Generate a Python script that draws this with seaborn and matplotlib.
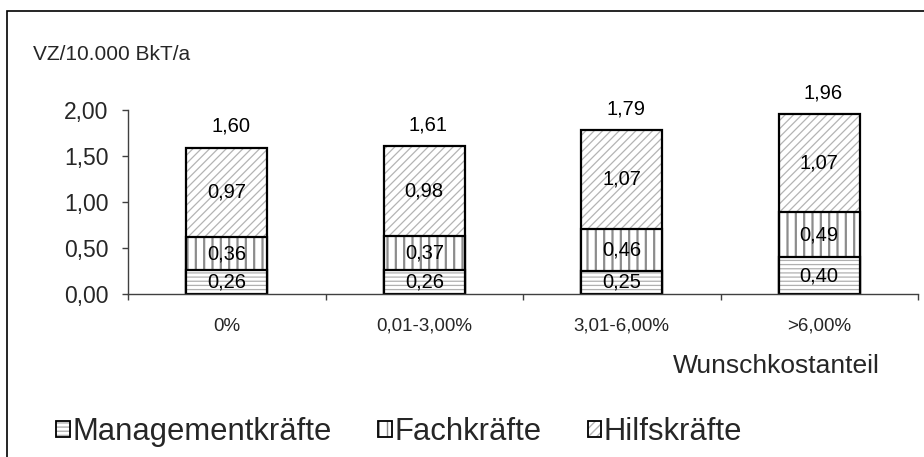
import matplotlib
matplotlib.use("Agg")
import matplotlib.pyplot as plt
from matplotlib.patches import Patch, Rectangle
from matplotlib.legend_handler import HandlerTuple
import numpy as np
import pandas as pd
import seaborn as sns

# Data
categories = ["0%", "0,01-3,00%", "3,01-6,00%", ">6,00%"]
management = [0.26, 0.26, 0.25, 0.40]
fach = [0.36, 0.37, 0.46, 0.49]
hilfs = [0.97, 0.98, 1.07, 1.07]
totals = [1.60, 1.61, 1.79, 1.96]
series_names = ["Managementkräfte", "Fachkräfte", "Hilfskräfte"]
yticks = [0.0, 0.5, 1.0, 1.5, 2.0]

sns.set_theme(style="white")
plt.rcParams["font.family"] = ["Liberation Sans", "DejaVu Sans"]

df = pd.DataFrame({"cat": categories, "m": management, "f": fach, "h": hilfs})
df["c1"] = df["m"]
df["c2"] = df["m"] + df["f"]
df["c3"] = df["c2"] + df["h"]

W, H = 924, 457
fig = plt.figure(figsize=(W / 100, H / 100), dpi=100)
ax = fig.add_axes([128 / W, 1 - 294 / H, (918 - 128) / W, (294 - 110) / H])

styles = {
    "h": dict(hatch="////", hcol="#b4b4b4", hlw=0.9),
    "f": dict(hatch="||", hcol="#8c8c8c", hlw=1.6),
    "m": dict(hatch="----", hcol="#b0b0b0", hlw=0.9),
}
layers = [("c3", "h"), ("c2", "f"), ("c1", "m")]
bar_w = 0.41

for col, key in layers:
    st = styles[key]
    # hatched fill
    with plt.rc_context({"hatch.linewidth": st["hlw"]}):
        n0 = len(ax.patches)
        sns.barplot(data=df, x="cat", y=col, order=categories, width=bar_w,
                    color="white", ax=ax, errorbar=None)
        for p in ax.patches[n0:]:
            p.set_facecolor("white")
            p.set_edgecolor(st["hcol"])
            p.set_hatch(st["hatch"])
            p.set_linewidth(0)
    # outline
    n0 = len(ax.patches)
    sns.barplot(data=df, x="cat", y=col, order=categories, width=bar_w,
                color="white", ax=ax, errorbar=None)
    for p in ax.patches[n0:]:
        p.set_facecolor("none")
        p.set_edgecolor("black")
        p.set_linewidth(1.6)

# segment labels
fmt = lambda v: f"{v:.2f}".replace(".", ",")
for i in range(len(categories)):
    bottoms = [0, management[i], management[i] + fach[i]]
    for b, v in zip(bottoms, [management[i], fach[i], hilfs[i]]):
        ax.text(i, b + v / 2, fmt(v), ha="center", va="center", fontsize=14.5,
                color="black")
    ax.annotate(fmt(totals[i]), (i, totals[i]), xytext=(3, 11),
                textcoords="offset points", ha="center", va="baseline",
                fontsize=14.5, color="black")

ax.set_xlim(-0.5, 3.5)
ax.set_ylim(0, 2.0)
ax.set_yticks(yticks)
ax.set_yticklabels([fmt(v) for v in yticks], fontsize=16.5)
ax.set_xticks(np.arange(-0.5, 4.0, 1.0))
ax.set_xticklabels([])
ax.set_xticks(range(len(categories)), minor=True)
ax.set_xticklabels(categories, minor=True, fontsize=13.5)
ax.tick_params(axis="x", which="major", direction="out", length=4.5, width=1,
               color="#404040", bottom=True)
ax.tick_params(axis="x", which="minor", length=0, pad=17)
ax.tick_params(axis="y", direction="out", length=4.5, width=1, color="#404040",
               left=True, pad=9.5)
ax.set_xlabel("")
ax.set_ylabel("")
for s in ["top", "right"]:
    ax.spines[s].set_visible(False)
for s in ["left", "bottom"]:
    ax.spines[s].set_color("#404040")
    ax.spines[s].set_linewidth(1)
ax.patch.set_alpha(0)

fig.text(33 / W, 1 - 55 / H, "VZ/10.000 BkT/a", ha="left", va="center",
         fontsize=15)
fig.text(880 / W, 1 - 366 / H, "Wunschkostanteil", ha="right", va="center",
         fontsize=19)

# chart border
fig.patches.append(Rectangle((7 / W, -0.1), 1.2, 1 - 11 / H + 0.1,
                             transform=fig.transFigure, fill=False,
                             edgecolor="black", linewidth=1.2))

# legend
handles = []
for key in ["m", "f", "h"]:
    st = styles[key]
    with plt.rc_context({"hatch.linewidth": st["hlw"]}):
        hp = Patch(facecolor="white", edgecolor=st["hcol"], hatch=st["hatch"],
                   linewidth=0)
    op = Patch(facecolor="none", edgecolor="black", linewidth=1.3)
    handles.append((hp, op))
fig.legend(handles, series_names, loc="center left", ncol=3,
           bbox_to_anchor=(56 / W, 1 - 432 / H), frameon=False,
           fontsize=22.3, handlelength=0.44, handleheight=0.44,
           handletextpad=0.08, columnspacing=1.5, borderaxespad=0,
           borderpad=0, handler_map={tuple: HandlerTuple(ndivide=1)})

fig.savefig("out.png", dpi=100)
